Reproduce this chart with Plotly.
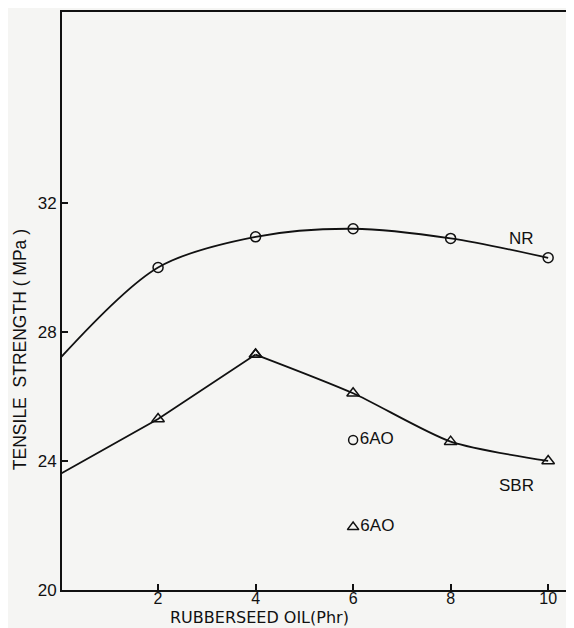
import plotly.graph_objects as go

oil = [0, 2, 4, 6, 8, 10]
nr_strength = [27.2, 30.0, 30.95, 31.2, 30.9, 30.3]
sbr_strength = [23.6, 25.3, 27.3, 26.1, 24.6, 24.0]
nr_6ao_x = [6]
nr_6ao = [24.65]
sbr_6ao_x = [6]
sbr_6ao = [21.95]
x_ticks = [2, 4, 6, 8, 10]
y_ticks = [20, 24, 28, 32]

FAM = "Liberation Sans"
INK = "#111"
font = dict(family=FAM, size=17, color=INK)
xfont = dict(family=FAM, size=16, color=INK)
tfont = dict(family=FAM, size=17.5, color=INK)
xtfont = dict(family="DejaVu Sans", size=16, color=INK)

fig = go.Figure()
fig.add_trace(go.Scatter(x=oil, y=nr_strength, mode="lines+markers",
                         line=dict(color=INK, width=1.8, shape="spline", smoothing=0.9),
                         marker=dict(symbol="circle-open", size=10, color=INK, line=dict(width=1.5)),
                         cliponaxis=False, showlegend=False))
fig.add_trace(go.Scatter(x=oil[:3], y=sbr_strength[:3], mode="lines+markers",
                         line=dict(color=INK, width=1.8),
                         marker=dict(symbol="triangle-up-open", size=11, color=INK, line=dict(width=1.5)),
                         cliponaxis=False, showlegend=False))
fig.add_trace(go.Scatter(x=oil[2:], y=sbr_strength[2:], mode="lines+markers",
                         line=dict(color=INK, width=1.8, shape="spline", smoothing=0.7),
                         marker=dict(symbol="triangle-up-open", size=11, color=INK, line=dict(width=1.5)),
                         cliponaxis=False, showlegend=False))
fig.add_trace(go.Scatter(x=nr_6ao_x, y=nr_6ao, mode="markers+text", text=["6AO"],
                         textposition="middle right", textfont=font,
                         marker=dict(symbol="circle-open", size=9, color=INK, line=dict(width=1.5)),
                         showlegend=False))
fig.add_trace(go.Scatter(x=sbr_6ao_x, y=sbr_6ao, mode="markers+text", text=["6AO"],
                         textposition="middle right", textfont=font,
                         marker=dict(symbol="triangle-up-open", size=10, color=INK, line=dict(width=1.5)),
                         showlegend=False))

fig.add_annotation(x=9.45, y=30.9, text="NR", showarrow=False, font=font)
fig.add_annotation(x=9.36, y=23.24, text="SBR", showarrow=False, font=font)

# axis titles
fig.add_annotation(xref="paper", yref="paper", x=0.385, y=-0.048, text="RUBBERSEED OIL(Phr)",
                   showarrow=False, font=xtfont, xanchor="center", yanchor="middle", borderpad=0)
fig.add_annotation(xref="paper", yref="paper", x=-0.082, y=0.415, text="TENSILE  STRENGTH ( MPa )",
                   showarrow=False, font=tfont, textangle=-90, xanchor="center", yanchor="middle")

# page body has an 8px margin: shift figure so the plot box lands where the reference has it
fig.update_layout(
    width=566, height=620,
    margin=dict(l=54, r=0, t=4, b=38),
    paper_bgcolor="#f5f5f3", plot_bgcolor="#f5f5f3",
    font=font,
)
fig.update_xaxes(range=[0.03, 10.53], tickvals=x_ticks, ticks="inside", ticklen=6,
                 tickcolor=INK, tickwidth=1.5, tickfont=xfont, ticklabelstandoff=-7,
                 showline=True, linecolor=INK, linewidth=2, mirror=True,
                 showgrid=False, zeroline=False)
fig.update_yaxes(range=[20, 37.92], tickvals=y_ticks, ticks="inside", ticklen=6,
                 tickcolor=INK, tickwidth=1.5, tickfont=font,
                 showline=True, linecolor=INK, linewidth=2,
                 showgrid=False, zeroline=False)

fig.write_html("out.html")
